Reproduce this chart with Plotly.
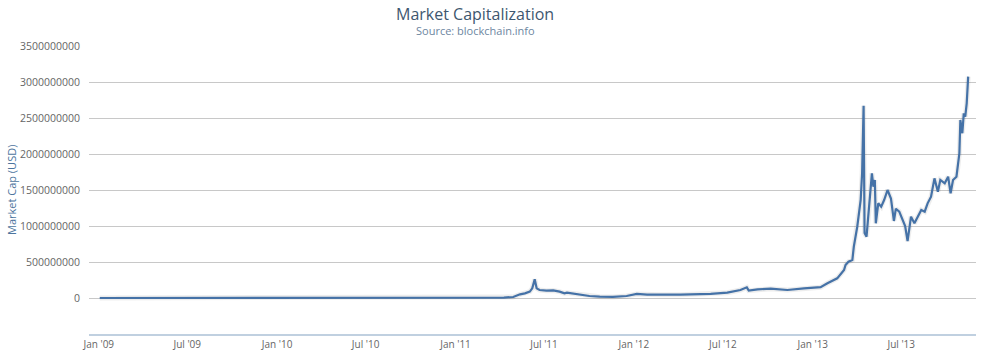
import plotly.graph_objects as go

dates = [
    "2009-01-03", "2009-10-01", "2010-07-15", "2010-11-01", "2011-01-01",
    "2011-02-10", "2011-03-15", "2011-04-10", "2011-04-29", "2011-05-13",
    "2011-05-23", "2011-06-02", "2011-06-07", "2011-06-12", "2011-06-16",
    "2011-06-22", "2011-07-06", "2011-07-20", "2011-08-02", "2011-08-12",
    "2011-08-17", "2011-09-05", "2011-10-02", "2011-10-23", "2011-11-19",
    "2011-12-17", "2012-01-07", "2012-01-28", "2012-02-24", "2012-04-05",
    "2012-06-06", "2012-07-10", "2012-08-06", "2012-08-19", "2012-08-23",
    "2012-09-10", "2012-10-07", "2012-11-10", "2012-12-14", "2013-01-17",
    "2013-01-31", "2013-02-13", "2013-02-20", "2013-03-06", "2013-03-09",
    "2013-03-15", "2013-03-23", "2013-03-26", "2013-04-02", "2013-04-09",
    "2013-04-12", "2013-04-15", "2013-04-17", "2013-04-21", "2013-04-26",
    "2013-05-02", "2013-05-05", "2013-05-08", "2013-05-10", "2013-05-15",
    "2013-05-21", "2013-05-27", "2013-06-03", "2013-06-10", "2013-06-16",
    "2013-06-20", "2013-06-27", "2013-07-04", "2013-07-09", "2013-07-14",
    "2013-07-21", "2013-07-28", "2013-08-04", "2013-08-11", "2013-08-18",
    "2013-08-24", "2013-08-31", "2013-09-07", "2013-09-14", "2013-09-19",
    "2013-09-28", "2013-10-05", "2013-10-10", "2013-10-15", "2013-10-22",
    "2013-10-25", "2013-10-28", "2013-10-30", "2013-11-03", "2013-11-06",
    "2013-11-09", "2013-11-12", "2013-11-15",
]

market_cap = [
    0, 0, 200000, 1500000, 1500000,
    5500000, 4000000, 6000000, 14000000, 51000000,
    65000000, 88000000, 134000000, 259000000, 134000000,
    111000000, 102000000, 105000000, 88000000, 65000000,
    74000000, 56000000, 28000000, 19000000, 15000000,
    28000000, 56000000, 46000000, 45000000, 46000000,
    56000000, 74000000, 111000000, 148000000, 102000000,
    120000000, 130000000, 111000000, 134000000, 150000000,
    204000000, 250000000, 273000000, 389000000, 458000000,
    504000000, 528000000, 713000000, 990000000, 1361000000,
    1736000000, 2671000000, 902000000, 852000000, 1222000000,
    1732000000, 1546000000, 1639000000, 1037000000, 1315000000,
    1268000000, 1361000000, 1500000000, 1380000000, 1070000000,
    1240000000, 1200000000, 1080000000, 1000000000, 790000000,
    1129000000, 1037000000, 1129000000, 1222000000, 1199000000,
    1315000000, 1407000000, 1662000000, 1477000000, 1639000000,
    1593000000, 1685000000, 1454000000, 1639000000, 1685000000,
    1824000000, 2010000000, 2472000000, 2288000000, 2565000000,
    2518000000, 2704000000, 3074000000,
]

y_ticks = [0, 500000000, 1000000000, 1500000000, 2000000000,
           2500000000, 3000000000, 3500000000]

FONT = "Open Sans, DejaVu Sans, sans-serif"
L, R, T, B = 89, 24, 46, 22
W, H = 1000, 356
PW = W - L - R

fig = go.Figure()
fig.add_trace(go.Scatter(
    x=dates, y=market_cap, mode="lines",
    line=dict(color="rgba(0,0,0,0.07)", width=5),
    hoverinfo="skip", showlegend=False,
))
fig.add_trace(go.Scatter(
    x=dates, y=market_cap, mode="lines",
    line=dict(color="#4572A7", width=2.2),
    name="Market Cap", showlegend=False,
))

fig.update_layout(
    width=W, height=H,
    margin=dict(l=L, r=R, t=T, b=B),
    paper_bgcolor="white", plot_bgcolor="white",
    font=dict(family=FONT, color="#666666", size=10),
    showlegend=False,
    annotations=[
        dict(text="Market Capitalization", xref="paper", yref="paper",
             x=(475 - L) / PW, y=1.0, yshift=T - 14, showarrow=False,
             xanchor="center", yanchor="middle", borderpad=0,
             font=dict(family=FONT, size=16, color="#3E576F")),
        dict(text="Source: blockchain.info", xref="paper", yref="paper",
             x=(475 - L) / PW, y=1.0, yshift=T - 30, showarrow=False,
             xanchor="center", yanchor="middle", borderpad=0,
             font=dict(family=FONT, size=11, color="#6D869F")),
        dict(text="Market Cap (USD)", xref="paper", yref="paper",
             x=(11 - L) / PW, y=0.5, textangle=-90, showarrow=False,
             xanchor="center", yanchor="middle",
             font=dict(family=FONT, size=11, color="#4D759E")),
    ],
)

fig.update_xaxes(
    type="date",
    range=["2008-12-12", "2013-12-01"],
    tick0="2009-01-01", dtick="M6", tickformat="%b '%y",
    showgrid=False, zeroline=False,
    showline=True, linecolor="#C0D0E0", linewidth=1.5,
    ticks="", tickfont=dict(size=10, color="#666666"),
    automargin=False, fixedrange=True,
)
fig.update_yaxes(
    range=[-500000000, 3500000000],
    tickvals=y_ticks, tickformat="d",
    showgrid=True, gridcolor="#C8C8C8", gridwidth=1,
    zeroline=False, showline=False, ticks="",
    ticklabelstandoff=8,
    tickfont=dict(size=10.5, color="#666666"),
    automargin=False, fixedrange=True,
)

fig.write_html(
    "out.html",
    config={"displayModeBar": False},
    post_script="document.body.style.margin='0px';document.body.style.padding='0px';",
)
